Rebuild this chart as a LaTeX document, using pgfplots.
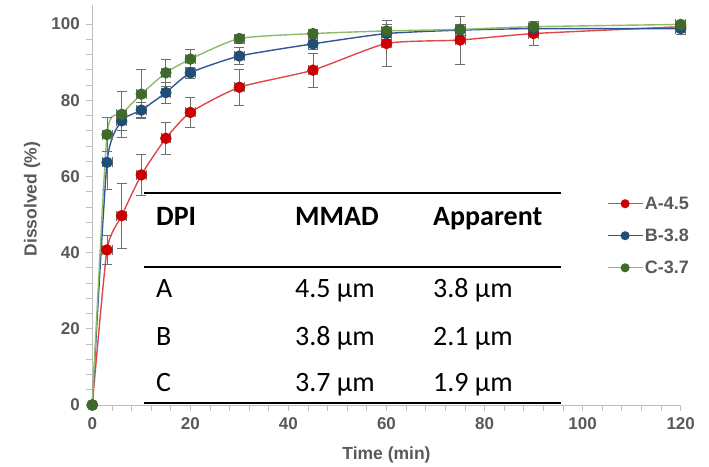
\documentclass[border=0pt]{standalone}
\usepackage{pgfplots}
\pgfplotsset{compat=1.18}
\usepackage{fontspec}
\setmainfont{Liberation Sans}
\newfontfamily\calibri{Carlito}
\definecolor{redM}{HTML}{CC0000}
\definecolor{redL}{HTML}{E04848}
\definecolor{blueM}{HTML}{1F4E79}
\definecolor{blueL}{HTML}{2F5597}
\definecolor{greenM}{HTML}{3F6B2A}
\definecolor{greenL}{HTML}{8CBB6C}
\definecolor{axgray}{HTML}{BFBFBF}
\definecolor{lblgray}{HTML}{595959}
\definecolor{errgray}{HTML}{6E6E6E}
\pgfplotstableread{
t y e xe
0 0 0 0
3 40.7 3.7 1.0
6 49.7 8.5 1.0
10 60.4 5.5 1.0
15 70.0 4.2 1.0
20 76.8 3.9 1.0
30 83.4 4.7 1.0
45 87.9 4.5 1.0
60 94.9 6.0 1.0
75 95.8 6.3 1.0
90 97.5 3.1 1.0
120 99.3 1.0 1.0
}\dataA
\pgfplotstableread{
t y e xe
0 0 0 0
3 63.7 7.0 1.0
6 74.6 2.5 1.0
10 77.4 2.0 1.0
15 82.0 2.8 1.0
20 87.2 1.5 1.0
30 91.6 2.2 1.0
45 94.8 1.5 1.0
60 97.5 1.5 1.0
75 98.4 1.5 1.0
90 98.8 1.0 1.0
120 98.8 1.5 1.0
}\dataB
\pgfplotstableread{
t y e xe
0 0 0 0
3 71.0 4.5 1.0
6 76.3 6.0 1.0
10 81.6 6.4 1.0
15 87.2 3.5 1.0
20 90.8 2.5 1.0
30 96.2 1.2 1.0
45 97.5 1.0 1.0
60 98.2 1.8 1.0
75 98.6 3.5 1.0
90 99.3 1.0 1.0
120 99.9 0.5 1.0
}\dataC
\begin{document}
\begin{tikzpicture}
\begin{axis}[
  at={(0,0)}, anchor=south west,
  scale only axis, width=588.4pt, height=400pt,
  xmin=0, xmax=120, ymin=0, ymax=105,
  axis x line=bottom, axis y line=left,
  axis line style={-, draw=axgray, line width=0.8pt},
  xtick={0,20,...,120}, ytick={0,20,...,100},
  minor x tick num=4, minor y tick num=4,
  tick align=outside, major tick length=6pt, minor tick length=6pt,
  tick style={draw=axgray, line width=0.8pt},
  ticklabel style={font=\bfseries\fontsize{17}{17}\selectfont, text=lblgray},
  xticklabel style={yshift=-3pt},
  yticklabel style={xshift=-3pt},
  /pgf/number format/assume math mode=true,
  xlabel={Time (min)}, ylabel={Dissolved (\%)},
  label style={font=\bfseries\fontsize{17.5}{17.5}\selectfont, text=lblgray},
  xlabel style={at={(axis description cs:0.5,-0.125)}, anchor=center},
  ylabel style={at={(axis description cs:-0.1025,0.515)}, anchor=center},
  clip=false,
  legend style={at={(axis description cs:0.870,0.423)}, anchor=west, draw=none, fill=none,
    font=\bfseries\fontsize{18}{18}\selectfont, text=lblgray, row sep=14pt},
  legend cell align=left,
  legend image code/.code={\draw[mark repeat=2,mark phase=2,#1] plot coordinates {(0pt,0pt)(17pt,0pt)(34pt,0pt)};},
  legend image post style={mark size=3.8pt},
  error bars/error bar style={errgray, line width=0.8pt},
  error bars/error mark options={rotate=90, errgray, mark size=5pt, line width=0.8pt},
]
\addplot[color=redL, line width=1.4pt, smooth, tension=0.35, mark=*, mark size=5pt,
  mark options={fill=redM, draw=redM},
  error bars/.cd, y dir=both, y explicit, x dir=both, x explicit]
  table[x=t, y=y, y error=e, x error=xe] {\dataA};
\addlegendentry{A-4.5}
\addplot[color=blueL, line width=1.4pt, smooth, tension=0.35, mark=*, mark size=5pt,
  mark options={fill=blueM, draw=blueM},
  error bars/.cd, y dir=both, y explicit, x dir=both, x explicit]
  table[x=t, y=y, y error=e, x error=xe] {\dataB};
\addlegendentry{B-3.8}
\addplot[color=greenL, line width=1.4pt, smooth, tension=0.35, mark=*, mark size=5pt,
  mark options={fill=greenM, draw=greenM},
  error bars/.cd, y dir=both, y explicit, x dir=both, x explicit]
  table[x=t, y=y, y error=e, x error=xe] {\dataC};
\addlegendentry{C-3.7}
\end{axis}
% table drawn over the plot area
\draw[line width=2pt] (51.7pt,211.5pt) -- (468.7pt,211.5pt);
\draw[line width=1.6pt] (51.7pt,138pt) -- (468.7pt,138pt);
\draw[line width=2pt] (51.7pt,2.5pt) -- (468.7pt,2.5pt);
\begin{scope}[every node/.style={anchor=base west, inner sep=0pt}]
\node[font=\calibri\bfseries\fontsize{28}{28}\selectfont] at (63.7pt,179pt) {DPI};
\node[font=\calibri\bfseries\fontsize{28}{28}\selectfont] at (202.7pt,179pt) {MMAD};
\node[font=\calibri\bfseries\fontsize{28}{28}\selectfont] at (340.7pt,179pt) {Apparent};
\node[font=\calibri\fontsize{28}{28}\selectfont] at (63.7pt,107pt) {A};
\node[font=\calibri\fontsize{28}{28}\selectfont] at (202.7pt,107pt) {4.5 µm};
\node[font=\calibri\fontsize{28}{28}\selectfont] at (340.7pt,107pt) {3.8 µm};
\node[font=\calibri\fontsize{28}{28}\selectfont] at (63.7pt,60pt) {B};
\node[font=\calibri\fontsize{28}{28}\selectfont] at (202.7pt,60pt) {3.8 µm};
\node[font=\calibri\fontsize{28}{28}\selectfont] at (340.7pt,60pt) {2.1 µm};
\node[font=\calibri\fontsize{28}{28}\selectfont] at (63.7pt,14pt) {C};
\node[font=\calibri\fontsize{28}{28}\selectfont] at (202.7pt,14pt) {3.7 µm};
\node[font=\calibri\fontsize{28}{28}\selectfont] at (340.7pt,14pt) {1.9 µm};
\end{scope}
\pgfresetboundingbox
\path[use as bounding box] (-92.3pt,-61pt) rectangle (616.7pt,405pt);
\end{tikzpicture}
\end{document}
